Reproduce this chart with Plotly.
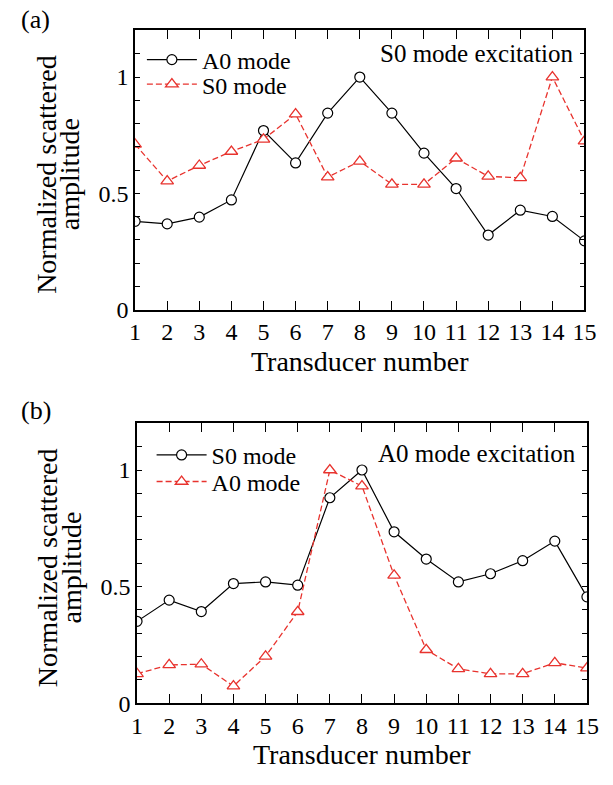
import plotly.graph_objects as go

# ---------------- data ----------------
transducers = list(range(1, 16))

# (a) S0 mode excitation
a_A0_mode = [0.380, 0.369, 0.398, 0.472, 0.770, 0.631, 0.845, 1.000,
             0.845, 0.673, 0.521, 0.321, 0.428, 0.401, 0.296]
a_S0_mode = [0.711, 0.553, 0.620, 0.680, 0.732, 0.841, 0.570, 0.638,
             0.539, 0.539, 0.651, 0.573, 0.567, 1.000, 0.725]

# (b) A0 mode excitation
b_S0_mode = [0.351, 0.442, 0.393, 0.513, 0.520, 0.506, 0.881, 1.000,
             0.735, 0.618, 0.520, 0.555, 0.611, 0.695, 0.456]
b_A0_mode = [0.126, 0.164, 0.167, 0.073, 0.201, 0.392, 1.000, 0.931,
             0.548, 0.229, 0.147, 0.126, 0.126, 0.173, 0.150]

y_tick_vals = [0, 0.1, 0.2, 0.3, 0.4, 0.5, 0.6, 0.7, 0.8, 0.9, 1.0, 1.1]
y_tick_text = ["0", "", "", "", "", "0.5", "", "", "", "", "1", ""]
x_tick_vals = transducers
x_tick_text = [str(v) for v in transducers]

# ---------------- layout helpers ----------------
W, H = 613, 785
FONT = "Liberation Serif"
RED = "#e8332e"


def px(x):
    return x / W


def py(y):
    return 1 - y / H


fig = go.Figure()

black_line = dict(color="black", width=1.2)
red_line = dict(color=RED, width=1.3, dash="6px,3px")
circ = dict(symbol="circle", size=10, color="white", line=dict(color="black", width=1.2))
tri = dict(symbol="triangle-up", size=11, color="white", line=dict(color=RED, width=1.3))

fig.add_trace(go.Scatter(x=transducers, y=a_A0_mode, mode="lines+markers", name="A0 mode",
                         line=black_line, marker=circ, xaxis="x", yaxis="y", legend="legend"))
fig.add_trace(go.Scatter(x=transducers, y=a_S0_mode, mode="lines+markers", name="S0 mode",
                         line=red_line, marker=tri, xaxis="x", yaxis="y", legend="legend2"))
fig.add_trace(go.Scatter(x=transducers, y=b_S0_mode, mode="lines+markers", name="S0 mode",
                         line=black_line, marker=circ, xaxis="x2", yaxis="y2", legend="legend3"))
fig.add_trace(go.Scatter(x=transducers, y=b_A0_mode, mode="lines+markers", name="A0 mode",
                         line=red_line, marker=tri, xaxis="x2", yaxis="y2", legend="legend4"))

xax = dict(range=[1, 15], tickvals=x_tick_vals, ticktext=x_tick_text, ticks="inside", ticklen=9,
           tickwidth=1.2, tickcolor="black", showline=True, linecolor="black", linewidth=1.5,
           mirror="ticks", showgrid=False, zeroline=False,
           tickfont=dict(family=FONT, size=24, color="black"))
yax = dict(range=[0, 1.2], tickvals=y_tick_vals, ticktext=y_tick_text, ticks="inside", ticklen=5,
           tickwidth=1.2, tickcolor="black", showline=True, linecolor="black", linewidth=1.5,
           mirror="ticks", showgrid=False, zeroline=False,
           tickfont=dict(family=FONT, size=24, color="black"))

leg = dict(bgcolor="rgba(0,0,0,0)", borderwidth=0, itemwidth=50, xanchor="left", yanchor="middle",
           font=dict(family=FONT, size=24, color="black"), itemclick=False)

fig.update_layout(
    width=W, height=H, margin=dict(l=0, r=0, t=0, b=0),
    paper_bgcolor="white", plot_bgcolor="white",
    xaxis=dict(xax, domain=[px(133), px(596)], anchor="y"),
    yaxis=dict(yax, domain=[py(315), py(31)], anchor="x"),
    xaxis2=dict(xax, domain=[px(135), px(598.5)], anchor="y2"),
    yaxis2=dict(yax, domain=[py(715), py(430.5)], anchor="x2"),
    legend=dict(leg, x=px(140), y=py(61)),
    legend2=dict(leg, x=px(140), y=py(86)),
    legend3=dict(leg, x=px(150), y=py(463)),
    legend4=dict(leg, x=px(150), y=py(490)),
    showlegend=True,
)

ann_font = dict(family=FONT, size=25, color="black")
title_font = dict(family=FONT, size=28, color="black")
annotations = [
    dict(text="(a)", x=px(13), y=py(20), xanchor="left", yanchor="middle", font=dict(family=FONT, size=26, color="black")),
    dict(text="(b)", x=px(13), y=py(417), xanchor="left", yanchor="middle", font=dict(family=FONT, size=26, color="black")),
    dict(text="S0 mode excitation", x=px(587), y=py(54), xanchor="right", yanchor="middle", font=ann_font),
    dict(text="A0 mode excitation", x=px(589), y=py(461), xanchor="right", yanchor="middle", font=ann_font),
    dict(text="Transducer number", x=px(364.5), y=py(368), xanchor="center", yanchor="middle", font=title_font),
    dict(text="Transducer number", x=px(367), y=py(767), xanchor="center", yanchor="middle", font=title_font),
    dict(text="Normalized scattered", x=px(41), y=py(177), xanchor="center", yanchor="middle",
         textangle=-90, font=title_font),
    dict(text="amplitude", x=px(65), y=py(177), xanchor="center", yanchor="middle",
         textangle=-90, font=title_font),
    dict(text="Normalized scattered", x=px(43), y=py(577), xanchor="center", yanchor="middle",
         textangle=-90, font=title_font),
    dict(text="amplitude", x=px(67), y=py(577), xanchor="center", yanchor="middle",
         textangle=-90, font=title_font),
]
for a in annotations:
    a.update(xref="paper", yref="paper", showarrow=False)
fig.update_layout(annotations=annotations)

fig.write_html("out.html")
